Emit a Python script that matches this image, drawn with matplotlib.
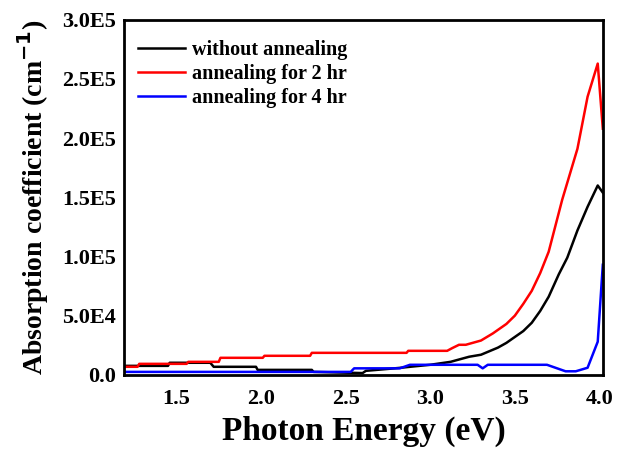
import matplotlib
matplotlib.use('Agg')
import matplotlib.pyplot as plt

# photon energy (eV) and absorption coefficient (cm^-1)
e_black = [1.20, 1.45, 1.46, 1.70, 1.72, 1.97, 1.98, 2.30, 2.31, 2.60, 2.62, 2.82, 2.88, 3.00,
           3.12, 3.23, 3.30, 3.40, 3.45, 3.50, 3.55, 3.60, 3.65, 3.70, 3.76, 3.81, 3.87, 3.93,
           3.99, 4.02]
a_black = [7600, 7600, 10200, 10200, 6800, 6800, 4200, 4200, 2500, 1500, 3400, 5900, 6800, 8500,
           11000, 15300, 17000, 23000, 27000, 32000, 37000, 44000, 54000, 66000, 85000, 99000,
           122000, 142000, 160000, 154000]

e_red = [1.20, 1.27, 1.28, 1.56, 1.57, 1.75, 1.76, 2.01, 2.02, 2.29, 2.30, 2.86, 2.87, 3.10,
         3.13, 3.17, 3.21, 3.30, 3.37, 3.45, 3.50, 3.55, 3.60, 3.65, 3.70, 3.78, 3.87, 3.93,
         3.99, 4.02]
a_red = [6800, 6800, 9300, 9300, 11000, 11000, 14400, 14400, 16100, 16100, 18600, 18600, 20300,
         20300, 22600, 25400, 25400, 29000, 35000, 43000, 50000, 60000, 71000, 86000, 104000,
         148000, 191000, 235000, 263000, 208000]

e_blue = [1.20, 2.53, 2.55, 2.82, 2.88, 3.28, 3.31, 3.34, 3.69, 3.80, 3.86, 3.93, 3.99, 4.02]
a_blue = [2500, 2500, 5500, 5500, 8500, 8500, 5500, 8500, 8500, 3000, 3000, 6000, 28000, 93000]

labels = ['without annealing', 'annealing for 2 hr', 'annealing for 4 hr']

xticks = [1.5, 2.0, 2.5, 3.0, 3.5, 4.0]
yticks = [0, 50000, 100000, 150000, 200000, 250000, 300000]
ytick_labels = ['0.0', '5.0E4', '1.0E5', '1.5E5', '2.0E5', '2.5E5', '3.0E5']

plt.rcParams['font.family'] = ['Liberation Serif', 'DejaVu Serif']
plt.rcParams['font.weight'] = 'bold'

fig = plt.figure(figsize=(6.17, 4.5), dpi=100)
ax = fig.add_axes([0.201, 0.167, 0.776, 0.789])

ax.plot(e_black, a_black, color='black', lw=1.8, label=labels[0])
ax.plot(e_red, a_red, color='red', lw=1.8, label=labels[1])
ax.plot(e_blue, a_blue, color='blue', lw=1.8, label=labels[2])

ax.set_xlim(1.19, 4.02)
ax.set_ylim(0, 300000)
ax.set_xticks(xticks)
ax.set_xticklabels([f'{t:.1f}' for t in xticks])
ax.set_yticks(yticks)
ax.set_yticklabels(ytick_labels)
ax.tick_params(length=0, labelsize=16)
ax.tick_params(axis='x', pad=10)
ax.tick_params(axis='y', pad=6)
for lab in ax.get_xticklabels() + ax.get_yticklabels():
    lab.set_fontweight('bold')

for s in ax.spines.values():
    s.set_linewidth(2)

ax.set_xlabel('Photon Energy (eV)', fontsize=24, fontweight='bold', labelpad=5)
ax.set_ylabel('Absorption coefficient (cm$^{\\mathbf{-1}}$)', fontsize=20, fontweight='bold', labelpad=8)

leg = ax.legend(loc='upper left', bbox_to_anchor=(0.03, 0.943), frameon=False,
                handlelength=2.3, handletextpad=0.35, borderaxespad=0, borderpad=0,
                labelspacing=0.2, prop={'weight': 'bold', 'size': 14.5})

fig.savefig('out.png', dpi=100)
